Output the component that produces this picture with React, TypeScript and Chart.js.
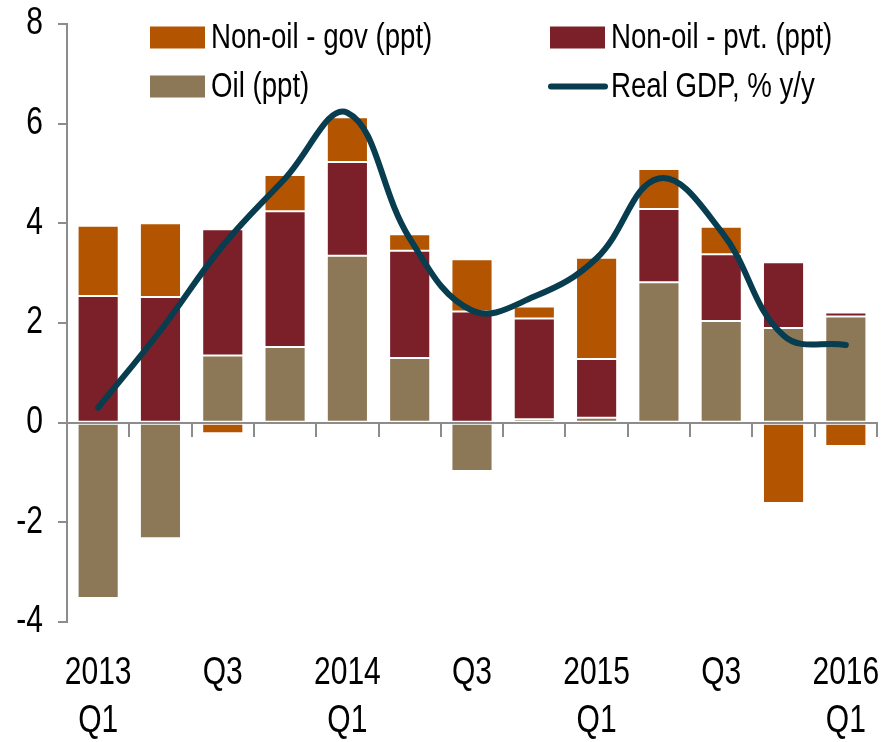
import React, { useEffect, useRef } from 'react';
import { Chart, registerables } from 'chart.js';

Chart.register(...registerables);

// ---- Data ----
const categories: (string | string[])[] = [
  ['2013', 'Q1'], '', 'Q3', '',
  ['2014', 'Q1'], '', 'Q3', '',
  ['2015', 'Q1'], '', 'Q3', '',
  ['2016', 'Q1'],
];
const oil = [-3.52, -2.32, 1.35, 1.52, 3.35, 1.3, -0.97, 0.07, 0.1, 2.82, 2.04, 1.9, 2.13];
const nonOilPvt = [2.54, 2.52, 2.53, 2.72, 1.88, 2.15, 2.23, 2.02, 1.18, 1.47, 1.34, 1.32, 0.08];
const nonOilGov = [1.41, 1.48, -0.21, 0.73, 0.9, 0.33, 1.05, 0.24, 2.03, 0.8, 0.55, -1.61, -0.47];
const realGdp = [0.3, 1.85, 3.55, 4.9, 6.22, 3.7, 2.25, 2.53, 3.3, 4.9, 3.84, 1.75, 1.56];
const yMin = -4;
const yMax = 8;
const yStep = 2;

const seriesNames = {
  gov: 'Non-oil - gov (ppt)',
  pvt: 'Non-oil - pvt. (ppt)',
  oil: 'Oil (ppt)',
  gdp: 'Real GDP, % y/y',
};

// ---- Styles ----
// No narrow font is installed, so text is drawn horizontally condensed.
const FONT = "'Liberation Sans', Arial, sans-serif";
const TEXT_SCALE_X = 0.79;
const COLORS = {
  gov: '#B35500',
  pvt: '#7B2029',
  oil: '#8C7857',
  gdp: '#073D4F',
  axis: '#8c8c8c',
};

const legendItems = [
  { key: 'gov', kind: 'box', dx: 83, dy: 13.5 },
  { key: 'pvt', kind: 'box', dx: 483, dy: 13.5 },
  { key: 'oil', kind: 'box', dx: 83, dy: 62.5 },
  { key: 'gdp', kind: 'line', dx: 483, dy: 62.5 },
];

const customLegend = {
  id: 'customLegend',
  afterDraw(chart: any) {
    const ctx = chart.ctx as CanvasRenderingContext2D;
    const { left, top } = chart.chartArea;
    ctx.save();
    ctx.font = `35px ${FONT}`;
    ctx.textBaseline = 'middle';
    ctx.textAlign = 'left';
    for (const it of legendItems) {
      const x = left + it.dx;
      const y = top + it.dy;
      const color = (COLORS as any)[it.key];
      if (it.kind === 'box') {
        ctx.fillStyle = color;
        ctx.fillRect(x, y - 11, 55, 22);
      } else {
        ctx.strokeStyle = color;
        ctx.lineWidth = 6;
        ctx.lineCap = 'round';
        ctx.beginPath();
        ctx.moveTo(x + 1, y);
        ctx.lineTo(x + 55, y);
        ctx.stroke();
      }
      ctx.fillStyle = '#000';
      ctx.fillText((seriesNames as any)[it.key], x + 61, y + 1);
    }
    ctx.restore();
  },
};

function condenseText(ctx: CanvasRenderingContext2D) {
  const orig = ctx.fillText;
  (ctx as any).fillText = function (text: string, x: number, y: number, maxWidth?: number) {
    this.save();
    this.translate(x, y);
    this.scale(TEXT_SCALE_X, 1);
    if (maxWidth === undefined || maxWidth === null) {
      orig.call(this, text, 0, 0);
    } else {
      orig.call(this, text, 0, 0, maxWidth / TEXT_SCALE_X);
    }
    this.restore();
  };
  return () => {
    (ctx as any).fillText = orig;
  };
}

export default function App() {
  const canvasRef = useRef<HTMLCanvasElement | null>(null);

  useEffect(() => {
    document.body.style.margin = '0';
    const canvas = canvasRef.current;
    if (!canvas) return;
    const ctx = canvas.getContext('2d')!;
    const undoCondense = condenseText(ctx);
    const barCommon = {
      type: 'bar' as const,
      borderWidth: 1,
      borderColor: 'rgba(255,255,255,0.3)',
      borderSkipped: false as const,
      categoryPercentage: 1,
      barPercentage: 0.66,
      stack: 'contrib',
      order: 1,
      xAxisID: 'x',
      yAxisID: 'y',
    };
    const chart = new Chart(ctx, {
      type: 'bar',
      data: {
        labels: categories as any,
        datasets: [
          { ...barCommon, label: seriesNames.oil, data: oil, backgroundColor: COLORS.oil },
          { ...barCommon, label: seriesNames.pvt, data: nonOilPvt, backgroundColor: COLORS.pvt },
          { ...barCommon, label: seriesNames.gov, data: nonOilGov, backgroundColor: COLORS.gov },
          {
            type: 'line' as const,
            label: seriesNames.gdp,
            data: realGdp,
            borderColor: COLORS.gdp,
            backgroundColor: COLORS.gdp,
            borderWidth: 6,
            pointRadius: 0,
            tension: 0.4,
            cubicInterpolationMode: 'default',
            borderCapStyle: 'round',
            borderJoinStyle: 'round',
            fill: false,
            stack: 'gdp',
            order: 0,
            xAxisID: 'x',
            yAxisID: 'y',
          } as any,
        ],
      },
      options: {
        animation: false,
        responsive: true,
        maintainAspectRatio: false,
        layout: { padding: { left: 0, right: 16, top: 24, bottom: 0 } },
        plugins: {
          legend: { display: false },
          tooltip: { enabled: false },
        },
        scales: {
          x: {
            type: 'category',
            position: 'bottom',
            stacked: true,
            offset: true,
            grid: { display: false, drawTicks: false },
            border: { display: false },
            ticks: {
              color: '#000',
              font: { family: FONT, size: 38, lineHeight: 1.263 },
              padding: 28,
              maxRotation: 0,
              minRotation: 0,
              autoSkip: false,
            },
            afterFit: (scale: any) => {
              scale.height = 120;
              scale.paddingLeft = 0;
              scale.paddingRight = 0;
            },
          },
          x2: {
            type: 'category',
            position: { y: 0 } as any,
            offset: true,
            grid: {
              offset: true,
              drawOnChartArea: false,
              drawTicks: true,
              tickLength: 13,
              color: COLORS.axis,
              lineWidth: 2,
            },
            border: { display: true, color: COLORS.axis, width: 2 },
            ticks: { display: false },
            afterFit: (scale: any) => {
              scale.paddingLeft = 0;
              scale.paddingRight = 0;
            },
          } as any,
          y: {
            type: 'linear',
            position: 'left',
            stacked: true,
            min: yMin,
            max: yMax,
            grid: {
              drawOnChartArea: false,
              drawTicks: true,
              tickLength: 9,
              color: COLORS.axis,
              lineWidth: 2,
            },
            border: { display: true, color: COLORS.axis, width: 2 },
            ticks: {
              stepSize: yStep,
              color: '#000',
              font: { family: FONT, size: 38 },
              padding: 15,
            },
            afterFit: (scale: any) => {
              scale.width = 67;
              scale.paddingTop = 0;
              scale.paddingBottom = 0;
            },
          },
        },
      } as any,
      plugins: [customLegend],
    });
    return () => {
      chart.destroy();
      undoCondense();
    };
  }, []);

  return (
    <div style={{ width: 893, height: 742, position: 'relative' }}>
      <canvas ref={canvasRef} />
    </div>
  );
}
